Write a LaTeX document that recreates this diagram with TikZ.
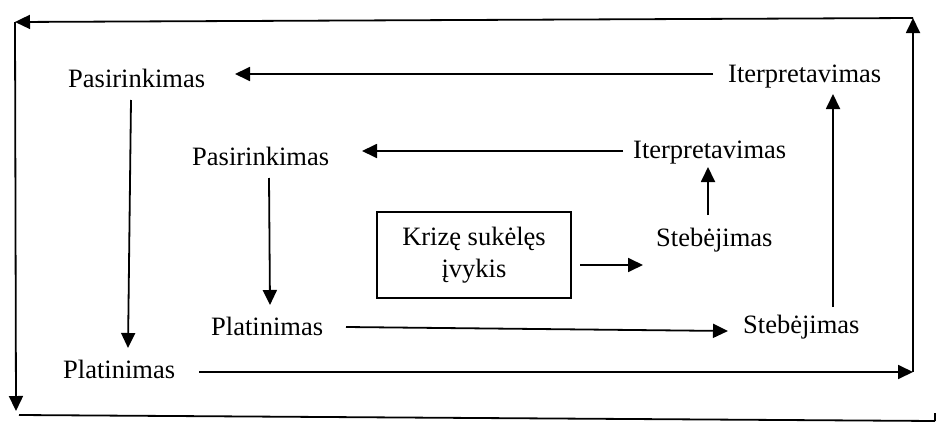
\documentclass[tikz,border=0pt]{standalone}
\usepackage{fontspec}
\setmainfont{Liberation Serif}
\usetikzlibrary{arrows.meta}
\tikzset{
  lbl/.style={anchor=base west, inner sep=0pt, font=\fontsize{26.5}{32}\selectfont},
  boxnode/.style={draw, line width=1.5pt, minimum width=194pt, minimum height=86pt, inner sep=0pt, align=center, font=\fontsize{26.5}{32}\selectfont},
  conn/.style={line width=1.8pt},
  arr/.style={conn, -{Triangle[length=15pt,width=14pt]}}
}
\begin{document}
\begin{tikzpicture}[x=1pt,y=-1pt]
\useasboundingbox (0,0) rectangle (937,423);
% text nodes
\node[lbl] (pas1) at (68,87) {Pasirinkimas};
\node[lbl] (iter1) at (728,82) {Iterpretavimas};
\node[lbl] (pas2) at (192,165) {Pasirinkimas};
\node[lbl] (iter2) at (633,158) {Iterpretavimas};
\node[lbl] (steb2) at (656,246) {Stebėjimas};
\node[lbl] (plat2) at (211,335) {Platinimas};
\node[lbl] (steb1) at (743,333) {Stebėjimas};
\node[lbl] (plat1) at (63,378) {Platinimas};
\node[boxnode] (box) at (474,255) {Krizę sukėlęs\\įvykis};
% connector ends
\coordinate (a1s) at (713,74);  \coordinate (a1e) at (235,74);
\coordinate (a2s) at (623,151); \coordinate (a2e) at (362,151);
\coordinate (a3s) at (269,178); \coordinate (a3e) at (270,305);
\coordinate (a4s) at (346,327); \coordinate (a4e) at (728,331);
\coordinate (a5s) at (833,307); \coordinate (a5e) at (833,94);
\coordinate (a6s) at (580,265); \coordinate (a6e) at (643,265);
\coordinate (a7s) at (708,215); \coordinate (a7e) at (708,167);
\coordinate (a8s) at (131,100); \coordinate (a8e) at (128,348);
\coordinate (a9s) at (199,372); \coordinate (c1) at (913,372);
\coordinate (c2) at (913,18);
\coordinate (c3) at (15,22);
\coordinate (c4) at (16,411);
\coordinate (b1) at (19,415); \coordinate (b2) at (935,421);
\coordinate (t1) at (935,413);
% connectors
\draw[arr] (a1s) -- (a1e);
\draw[arr] (a2s) -- (a2e);
\draw[arr] (a3s) -- (a3e);
\draw[arr] (a4s) -- (a4e);
\draw[arr] (a5s) -- (a5e);
\draw[arr] (a6s) -- (a6e);
\draw[arr] (a7s) -- (a7e);
\draw[arr] (a8s) -- (a8e);
\draw[arr] (a9s) -- (c1);
\draw[arr] (c1) -- (c2);
\draw[arr] (c2) -- (c3);
\draw[arr] (c3) -- (c4);
\draw[conn] (b1) -- (b2);
\draw[conn] (t1) -- (b2);
\end{tikzpicture}
\end{document}
